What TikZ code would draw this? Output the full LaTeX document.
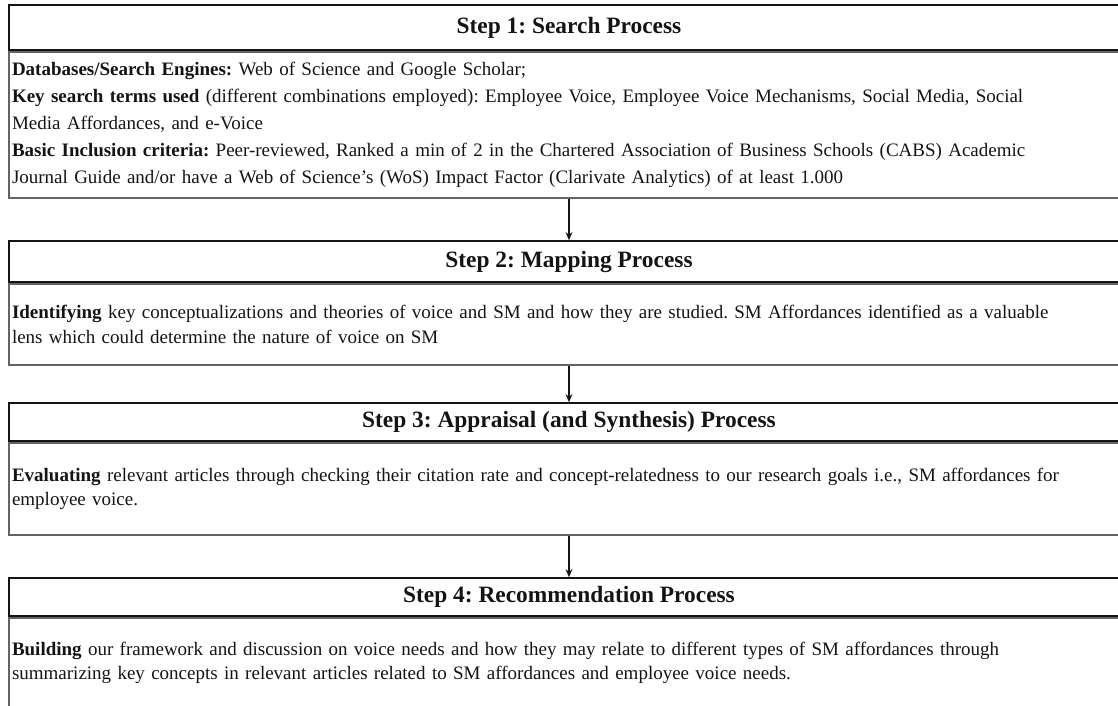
\documentclass[tikz,border=0pt]{standalone}
\usepackage{fontspec}
\setmainfont{Liberation Serif}
\frenchspacing
\usetikzlibrary{arrows.meta,positioning}
\definecolor{inkblack}{RGB}{20,20,20}
\definecolor{edgegrey}{RGB}{100,100,100}
\tikzset{
  base/.style={text=inkblack, inner xsep=1.5pt, inner ysep=0pt},
  head/.style={base, rectangle, draw=inkblack, line width=1pt, minimum width=560pt, font=\bfseries\fontsize{11.7}{14}\selectfont},
  body/.style={base, rectangle, draw=edgegrey, line width=0.8pt, text width=557pt, align=left, font=\fontsize{9.5}{12.25}\selectfont},
  arr/.style={-{Stealth[length=4pt,width=3.4pt]}, line width=0.7pt, draw=inkblack},
}
\begin{document}
\begin{tikzpicture}[x=0.5pt,y=-0.5pt]
  \useasboundingbox (0,0) rectangle (1118,706);
  \clip (0,0) rectangle (1118,706);
  % bodies
  \node[body,minimum height=73pt,font=\fontsize{9.5}{13.5}\selectfont] (b1) at (569,125)
    {\textbf{Databases/Search Engines:} Web of Science and Google Scholar;\\
     \textbf{Key search terms used} (different combinations employed): Employee Voice, Employee Voice Mechanisms, Social Media, Social\\
     Media Affordances, and e-Voice\\
     \textbf{Basic Inclusion criteria:} Peer-reviewed, Ranked a min of 2 in the Chartered Association of Business Schools (CABS) Academic\\
     Journal Guide and/or have a Web of Science’s (WoS) Impact Factor (Clarivate Analytics) of at least 1.000};
  \node[body,minimum height=40.5pt] (b2) at (569,324.5)
    {\textbf{Identifying} key conceptualizations and theories of voice and SM and how they are studied. SM Affordances identified as a valuable\\
     lens which could determine the nature of voice on SM};
  \node[body,minimum height=46pt] (b3) at (569,489)
    {\textbf{Evaluating} relevant articles through checking their citation rate and concept-relatedness to our research goals i.e., SM affordances for\\
     employee voice.};
  \node[body,minimum height=45pt] (b4) at (569,663)
    {\textbf{Building} our framework and discussion on voice needs and how they may relate to different types of SM affordances through\\
     summarizing key concepts in relevant articles related to SM affordances and employee voice needs.};
  % step titles
  \node[head,minimum height=22.5pt,above=0pt of b1] (t1) {Step 1: Search Process};
  \node[head,minimum height=20.5pt,above=0pt of b2] (t2) {Step 2: Mapping Process};
  \node[head,minimum height=19pt,above=0pt of b3] (t3) {Step 3: Appraisal (and Synthesis) Process};
  \node[head,minimum height=19pt,above=0pt of b4] (t4) {Step 4: Recommendation Process};
  \draw[arr] (b1.south) -- (t2.north);
  \draw[arr] (b2.south) -- (t3.north);
  \draw[arr] (b3.south) -- (t4.north);
\end{tikzpicture}
\end{document}
